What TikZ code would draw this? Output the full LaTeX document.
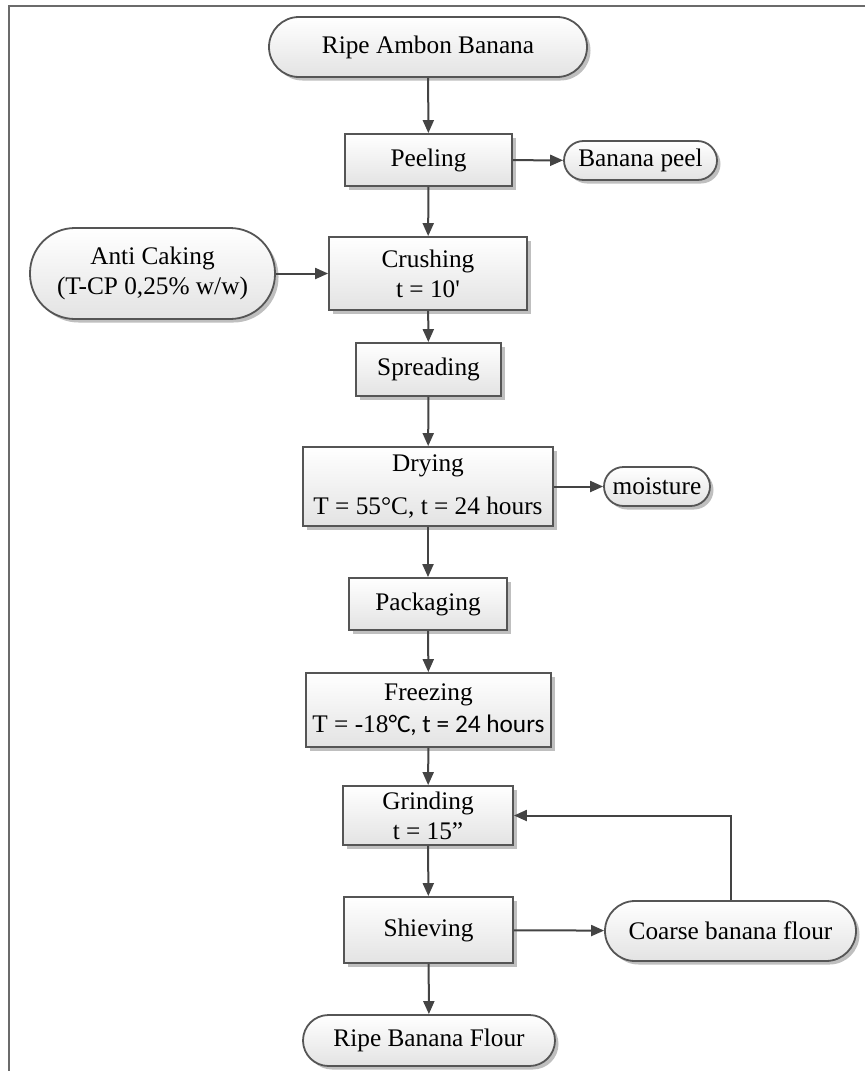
\documentclass[tikz,border=0pt]{standalone}
\usepackage{fontspec}
\setmainfont{Liberation Serif}
\newfontfamily\calib{Carlito}
\usetikzlibrary{arrows.meta,shadows}
\definecolor{boxline}{HTML}{555555}
\definecolor{arrowcol}{HTML}{444444}
\definecolor{framecol}{HTML}{6B6B6B}
\begin{document}
\begin{tikzpicture}[x=1pt,y=-1pt,
  base/.style={draw=boxline, line width=1.8pt, top color=white, bottom color=black!11,
    drop shadow={shadow xshift=3.5pt,shadow yshift=-3.5pt,opacity=0.25,fill=black},
    inner sep=0pt, align=center, font=\fontsize{25.3pt}{30pt}\selectfont, text=black},
  proc/.style={base, rectangle},
  term/.style={base, rectangle, rounded corners=#1},
  conn/.style={draw=arrowcol, line width=2pt, -{Triangle[length=13pt,width=11pt]}}
]
\useasboundingbox (0,0) rectangle (865,1071);
\draw[framecol, line width=2.5pt] (865,6) -- (9,6) -- (9,1071);

\node[term=30pt, minimum width=318pt, minimum height=60pt] (ripe) at (428,47) {Ripe Ambon Banana};
\node[proc, minimum width=167pt, minimum height=52pt] (peel) at (428.5,160) {Peeling};
\node[term=19.5pt, minimum width=153pt, minimum height=39pt] (bpeel) at (640.5,160.5) {Banana peel};
\node[term=45pt, minimum width=245pt, minimum height=91pt] (anti) at (152.5,273.5) {Anti Caking\\(T-CP 0,25\% w/w)};
\node[proc, minimum width=198pt, minimum height=73pt] (crush) at (428,273.5) {Crushing\\t = 10\textquotesingle};
\node[proc, minimum width=145pt, minimum height=53pt] (spread) at (428.5,369.5) {Spreading};
\node[proc, minimum width=250pt, minimum height=79pt] (dry) at (428,486.5) {Drying\\[13pt]T = 55°C, t = 24 hours};
\node[term=19.5pt, minimum width=106pt, minimum height=39pt] (moist) at (657,486.5) {moisture};
\node[proc, minimum width=158pt, minimum height=52pt] (pack) at (428,604) {Packaging};
\node[proc, minimum width=245pt, minimum height=74pt] (freeze) at (428.5,710) {Freezing\\[2pt]T = -18{\calib °C, t = 24 hours}};
\node[proc, minimum width=170pt, minimum height=59pt] (grind) at (428,815.5) {Grinding\\t = 15''};
\node[proc, minimum width=169pt, minimum height=66pt] (sieve) at (428.5,930) {Shieving};
\node[term=30pt, minimum width=251pt, minimum height=60pt] (coarse) at (730.5,931) {Coarse banana flour};
\node[term=25.5pt, minimum width=252pt, minimum height=51pt] (flour) at (429,1040.5) {Ripe Banana Flour};

\draw[conn] (ripe) -- (peel);
\draw[conn] (peel) -- (bpeel);
\draw[conn] (peel) -- (crush);
\draw[conn] (anti) -- (crush);
\draw[conn] (crush) -- (spread);
\draw[conn] (spread) -- (dry);
\draw[conn] (dry) -- (moist);
\draw[conn] (dry) -- (pack);
\draw[conn] (pack) -- (freeze);
\draw[conn] (freeze) -- (grind);
\draw[conn] (grind) -- (sieve);
\draw[conn] (sieve) -- (coarse);
\draw[conn] (coarse.north) |- (grind.east);
\draw[conn] (sieve) -- (flour);
\end{tikzpicture}
\end{document}
